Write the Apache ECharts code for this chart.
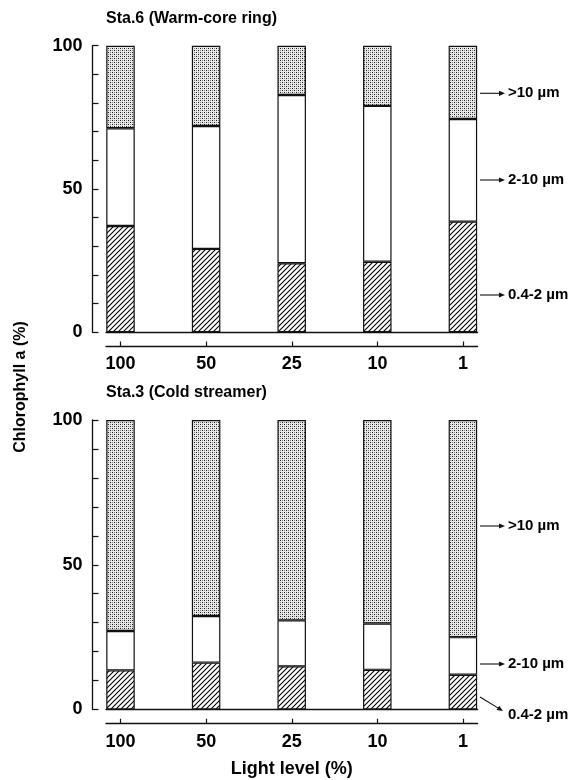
<!DOCTYPE html>
<html><head><meta charset="utf-8">
<script src="https://cdn.jsdelivr.net/npm/echarts@6/dist/echarts.min.js"></script>
<style>html,body{margin:0;padding:0;background:#fff}#c{width:584px;height:780px}</style>
</head><body><div id="c"></div>
<script>
// ---- data ----
const categories = ['100', '50', '25', '10', '1'];          // Light level (%)
const sta6Small = [37.1, 29.1, 24.1, 24.6, 38.6];           // 0.4-2 µm
const sta6Mid   = [34.1, 42.9, 58.7, 54.4, 35.8];           // 2-10 µm
const sta6Large = [28.8, 28.0, 17.2, 21.0, 25.6];           // >10 µm
const sta3Small = [13.5, 16.2, 14.9, 13.7, 12.0];
const sta3Mid   = [13.6, 16.1, 15.9, 16.0, 13.0];
const sta3Large = [72.9, 67.7, 69.2, 70.3, 75.0];
const yTickLabels = [0, 50, 100];
const titles = ['Sta.6 (Warm-core ring)', 'Sta.3 (Cold streamer)'];
const sizeLabels = ['>10 µm', '2-10 µm', '0.4-2 µm'];

// ---- patterns ----
function hatchPattern() {
  const c = document.createElement('canvas'); c.width = 5; c.height = 5;
  const g = c.getContext('2d');
  g.fillStyle = '#fff'; g.fillRect(0, 0, 5, 5);
  g.strokeStyle = '#000'; g.lineWidth = 1.1;
  g.beginPath();
  g.moveTo(-1, 6); g.lineTo(6, -1);
  g.moveTo(-3, 3); g.lineTo(3, -3);
  g.moveTo(2, 8); g.lineTo(8, 2);
  g.stroke();
  return { image: c, repeat: 'repeat' };
}
function dotPattern() {
  const c = document.createElement('canvas'); c.width = 4; c.height = 4;
  const g = c.getContext('2d');
  g.fillStyle = '#e8e8e8'; g.fillRect(0, 0, 4, 4);
  g.fillStyle = '#1a1a1a'; g.fillRect(0, 0, 1, 1); g.fillRect(2, 2, 1, 1);
  g.fillStyle = '#8a8a8a'; g.fillRect(2, 0, 1, 1); g.fillRect(0, 2, 1, 1);
  return { image: c, repeat: 'repeat' };
}
const HATCH = hatchPattern(), DOTS = dotPattern();

const FONT = "'Liberation Sans', Arial, Helvetica, sans-serif";
const chart = echarts.init(document.getElementById('c'), null, { renderer: 'canvas' });

const panels = [
  { top: 45.7, height: 286.6 },
  { top: 420, height: 289.5 }
];
const barLeft = 77.7, barWidthGrid = 428;
const decoLeft = 106, decoWidth = 371.6;

const grids = [], xAxes = [], yAxes = [], series = [];
panels.forEach((p, i) => {
  grids.push({ left: barLeft, width: barWidthGrid, top: p.top, height: p.height });
  grids.push({ left: decoLeft, width: decoWidth, top: p.top, height: p.height });
  const gBar = i * 2, gDeco = i * 2 + 1;
  // category axis for bars (hidden)
  xAxes.push({ type: 'category', gridIndex: gBar, data: categories, boundaryGap: true,
    axisLine: { show: false }, axisTick: { show: false }, axisLabel: { show: false } });
  yAxes.push({ type: 'value', gridIndex: gBar, min: 0, max: 100, interval: 10, show: false, splitLine: { show: false } });
  // baseline
  xAxes.push({ type: 'value', gridIndex: gDeco, min: -0.17, max: 4.17, position: 'bottom',
    axisLine: { show: true, onZero: false, lineStyle: { color: '#111', width: 1.3 } },
    axisTick: { show: false }, axisLabel: { show: false }, splitLine: { show: false } });
  // lower labelled axis
  const lab = { type: 'value', gridIndex: gDeco, min: -0.17, max: 4.17, position: 'bottom', offset: 14.2,
    axisLine: { show: true, onZero: false, lineStyle: { color: '#111', width: 1.3 } },
    axisTick: { show: true, inside: true, length: 5, customValues: [0, 1, 2, 3, 4], lineStyle: { color: '#111', width: 1.2 } },
    axisLabel: { show: true, customValues: [0, 1, 2, 3, 4], margin: 9, color: '#000',
      fontFamily: FONT, fontWeight: 'bold', fontSize: 18, formatter: v => categories[Math.round(v)] },
    splitLine: { show: false } };
  if (i === 1) {
    lab.name = 'Light level (%)'; lab.nameLocation = 'middle'; lab.nameGap = 36;
    lab.nameTextStyle = { fontFamily: FONT, fontWeight: 'bold', fontSize: 18, color: '#000' };
  }
  xAxes.push(lab);
  yAxes.push({ type: 'value', gridIndex: gDeco, min: 0, max: 100, interval: 10, position: 'left', offset: 13.5,
    axisLine: { show: true, onZero: false, lineStyle: { color: '#111', width: 1.3 } },
    axisTick: { show: true, inside: true, length: 6, lineStyle: { color: '#111', width: 1.2 } },
    axisLabel: { show: true, margin: 10, color: '#000', fontFamily: FONT, fontWeight: 'bold', fontSize: 18,
      formatter: v => (yTickLabels.indexOf(v) >= 0 ? String(v) : '') },
    splitLine: { show: false } });
});

const panelData = [[sta6Small, sta6Mid, sta6Large], [sta3Small, sta3Mid, sta3Large]];
const fills = [HATCH, '#ffffff', DOTS];
panelData.forEach((arrs, i) => {
  arrs.forEach((arr, k) => {
    series.push({
      type: 'bar', name: sizeLabels[2 - k], stack: 'p' + i,
      xAxisIndex: i * 3, yAxisIndex: i * 2,
      barWidth: 28.5, data: arr, silent: true, z: 3,
      itemStyle: { color: fills[k], borderColor: '#111', borderWidth: 1.2 }
    });
  });
});

// annotations (size-class pointers)
function arrow(x1, y1, x2, y2) {
  const ang = Math.atan2(y2 - y1, x2 - x1), L = 6, W = 2.6;
  const bx = x2 - L * Math.cos(ang), by = y2 - L * Math.sin(ang);
  const px = -Math.sin(ang) * W, py = Math.cos(ang) * W;
  return [
    { type: 'line', shape: { x1, y1, x2: bx, y2: by }, style: { stroke: '#111', lineWidth: 1.1 }, silent: true },
    { type: 'polygon', shape: { points: [[x2, y2], [bx + px, by + py], [bx - px, by - py]] }, style: { fill: '#111' }, silent: true }
  ];
}
function note(x, y, t) {
  return { type: 'text', x, y, style: { text: t, fill: '#000', font: "bold 15px " + FONT, textVerticalAlign: 'middle' }, silent: true };
}
const graphics = [];
[[93.3, 0], [180, 1], [295, 2], [526, 0], [664, 1]].forEach(([y, k]) => {
  graphics.push(...arrow(480, y, 505, y));
  graphics.push(note(508, y, sizeLabels[k]));
});
graphics.push(...arrow(480, 697, 503, 711));
graphics.push(note(508, 715, sizeLabels[2]));
graphics.push({ type: 'text', x: 21, y: 387, rotation: Math.PI / 2,
  style: { text: 'Chlorophyll a (%)', fill: '#000', font: "bold 16px " + FONT, textAlign: 'center', textVerticalAlign: 'middle' }, silent: true });

chart.setOption({
  backgroundColor: '#fff',
  animation: false,
  title: [
    { text: titles[0], left: 106, top: 11, textStyle: { fontFamily: FONT, fontWeight: 'bold', fontSize: 16, color: '#000' }, padding: 0 },
    { text: titles[1], left: 106, top: 385, textStyle: { fontFamily: FONT, fontWeight: 'bold', fontSize: 16, color: '#000' }, padding: 0 }
  ],
  grid: grids, xAxis: xAxes, yAxis: yAxes, series: series, graphic: graphics
});
</script></body></html>
